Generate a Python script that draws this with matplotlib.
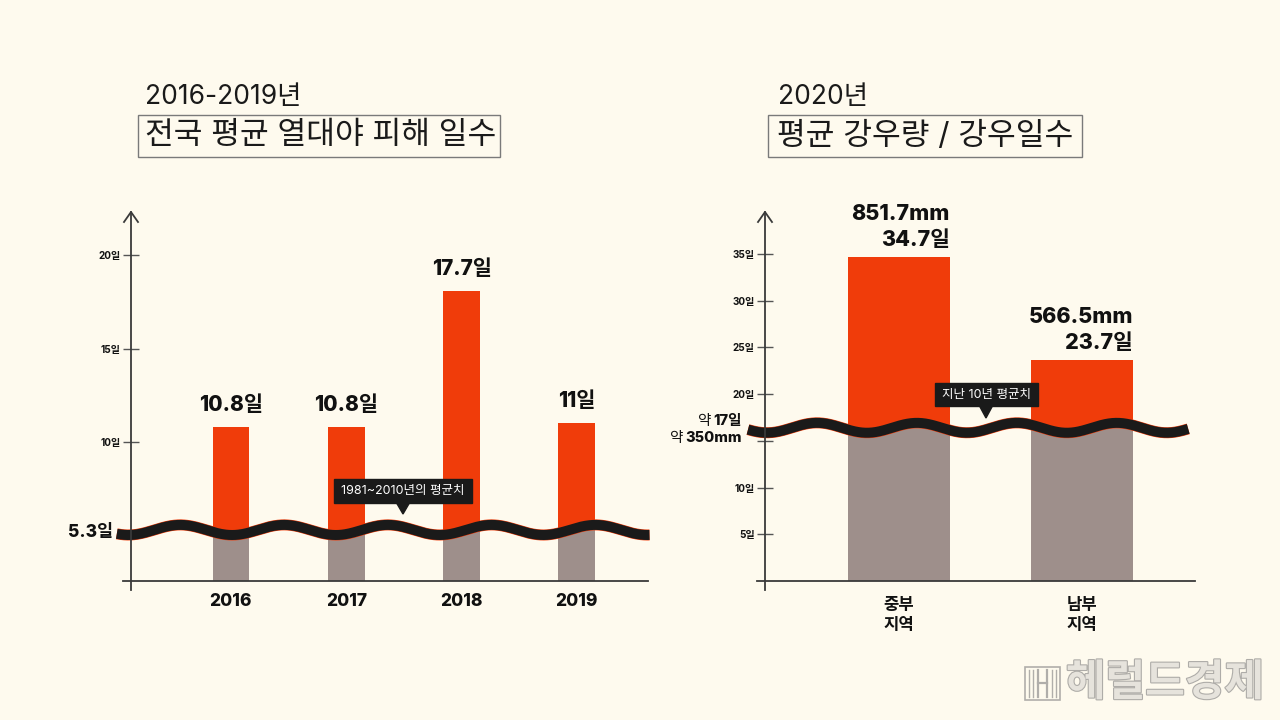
import numpy as np
import matplotlib
matplotlib.use('Agg')
import matplotlib.pyplot as plt
from matplotlib.patches import Rectangle, Polygon
from matplotlib.lines import Line2D
import matplotlib.patheffects as pe

plt.rcParams['font.family'] = ['Inter', 'Noto Sans CJK KR', 'DejaVu Sans']

# left chart: tropical night days
years = ['2016', '2017', '2018', '2019']
heat_days = [10.8, 10.8, 18.1, 11.0]
heat_labels = ['10.8일', '10.8일', '17.7일', '11일']
heat_avg = 5.3
heat_ticks = [10, 15, 20]
heat_ticklabels = ['10일', '15일', '20일']

# right chart: rain 2020
regions = ['중부\n지역', '남부\n지역']
rain_days = [34.7, 23.7]
rain_mm = ['851.7mm', '566.5mm']
rain_day_labels = ['34.7일', '23.7일']
rain_avg = 16.4
rain_ticks = [5, 10, 15, 20, 25, 30, 35]
rain_ticklabels = ['5일', '10일', '', '20일', '25일', '30일', '35일']

BG = '#fefaee'
ORANGE = '#f03c0a'
GRAY = '#9e8f8b'
DARK = '#1a1a1a'
AXC = '#3a3a3a'

W, H = 1280, 720


def fx(x):
    return x / W


def fy(y):
    return 1 - y / H


fig = plt.figure(figsize=(12.8, 7.2), dpi=100, facecolor=BG)


def fig_line(xs, ys, **kw):
    fig.add_artist(Line2D([fx(v) for v in xs], [fy(v) for v in ys], **kw))


def axis_frame(left, right, bottom, top):
    # x axis, y axis and the little arrow head
    fig_line([left - 8, right], [bottom, bottom], color=AXC, lw=1.3)
    fig_line([left, left], [bottom + 9, top], color=AXC, lw=1.3)
    fig_line([left - 7, left, left + 7], [top + 10, top, top + 10], color=AXC, lw=1.3)


def wave(ax, x0, x1, level, amp, period, crest):
    xs = np.linspace(x0, x1, 500)
    ys = level + amp * np.cos(2 * np.pi * (xs - crest) / period)
    ax.plot(xs, ys, color=DARK, lw=7.2, solid_capstyle='butt', clip_on=False, zorder=5,
            path_effects=[pe.Stroke(linewidth=7.9, foreground=ORANGE), pe.Normal()])


def style_axes(ax):
    ax.set_facecolor('none')
    for s in ax.spines.values():
        s.set_visible(False)
    ax.tick_params(axis='y', direction='inout', length=11, width=1, color='#555555',
                   labelsize=7.2, labelcolor='#111111', pad=2)
    ax.tick_params(axis='x', length=0, pad=9, labelcolor='#111111')


# ---------- left ----------
ax1 = fig.add_axes([fx(131), fy(581), (648 - 131) / W, (581 - 212) / H])
style_axes(ax1)
x1 = np.arange(len(years))
ax1.bar(x1, heat_days, width=0.32, color=ORANGE, zorder=2)
ax1.bar(x1, [heat_avg] * len(years), width=0.32, color=GRAY, zorder=3)
wave(ax1, -0.99, 3.63, heat_avg, 0.27, 0.9, -0.44)
ax1.set_xlim(-0.867, 3.617)
ax1.set_ylim(2.57, 22.3)
ax1.set_yticks(heat_ticks, heat_ticklabels, fontweight='bold')
ax1.set_xticks(x1, years, fontsize=12.5, fontweight=800)
for xi, v, lab in zip(x1, heat_days, heat_labels):
    ax1.annotate(lab, (xi, v), xytext=(0, 22), textcoords='offset pixels',
                 ha='center', va='center', fontsize=15, fontweight=800, color='#111111')
axis_frame(131, 648, 581, 212)

# ---------- right ----------
ax2 = fig.add_axes([fx(765), fy(581), (1195 - 765) / W, (581 - 212) / H])
style_axes(ax2)
x2 = np.arange(len(regions))
ax2.bar(x2, rain_days, width=0.557, color=ORANGE, zorder=2)
ax2.bar(x2, [rain_avg] * len(regions), width=0.557, color=GRAY, zorder=3)
wave(ax2, -0.825, 1.58, rain_avg, 0.53, 0.546, -0.448)
ax2.set_xlim(-0.732, 1.617)
ax2.set_ylim(0, 39.5)
ax2.set_yticks(rain_ticks, rain_ticklabels, fontweight='bold')
ax2.set_xticks(x2, regions, fontsize=12, fontweight='bold', linespacing=1.45)
ax2.tick_params(axis='x', pad=12)
for xi, v, mm, d in zip(x2, rain_days, rain_mm, rain_day_labels):
    ax2.annotate(d, (xi + 0.557 / 2, v), xytext=(0, 17), textcoords='offset pixels',
                 ha='right', va='center', fontsize=15.5, fontweight=800, color='#111111')
    ax2.annotate(mm, (xi + 0.557 / 2, v), xytext=(0, 43), textcoords='offset pixels',
                 ha='right', va='center', fontsize=15.5, fontweight=800, color='#111111')
axis_frame(765, 1195, 581, 212)

# ---------- titles ----------
fig.text(fx(145), fy(97), '2016-2019년', fontsize=19, va='center', color='#1a1a1a')
fig.text(fx(145), fy(136), '전국 평균 열대야 피해 일수', fontsize=22.5, va='center', color='#1a1a1a')
fig.add_artist(Rectangle((fx(138), fy(157)), (500 - 138) / W, (157 - 115) / H,
                         fill=False, edgecolor='#7a7a7a', lw=1))
fig.text(fx(778), fy(97), '2020년', fontsize=19, va='center', color='#1a1a1a')
fig.text(fx(777), fy(136), '평균 강우량 / 강우일수', fontsize=22.5, va='center', color='#1a1a1a')
fig.add_artist(Rectangle((fx(768), fy(157)), (1082 - 768) / W, (157 - 115) / H,
                         fill=False, edgecolor='#7a7a7a', lw=1))

# ---------- average level labels ----------
fig.text(fx(113), fy(533), '5.3일', fontsize=12.5, fontweight=800, ha='right', va='center',
         color='#111111')

renderer = fig.canvas.get_renderer()
for txt, y in [('17일', 421), ('350mm', 438)]:
    t = fig.text(fx(742), fy(y), txt, fontsize=10.5, fontweight=800, ha='right', va='center',
                 color='#111111')
    bb = t.get_window_extent(renderer)
    fig.text(bb.x0 / W - 3 / W, fy(y), '약', fontsize=10.5, ha='right', va='center', color='#111111')

# ---------- callout boxes ----------
def callout(x0, x1, y0, y1, tip_x, tip_y, text):
    fig.add_artist(Rectangle((fx(x0), fy(y1)), (x1 - x0) / W, (y1 - y0) / H,
                             color=DARK, zorder=10))
    fig.add_artist(Polygon([(fx(tip_x - 7), fy(y1 - 1)), (fx(tip_x + 7), fy(y1 - 1)),
                            (fx(tip_x), fy(tip_y))], closed=True, color=DARK, zorder=10))
    fig.text(fx((x0 + x1) / 2), fy((y0 + y1) / 2), text, color='white', fontsize=9,
             ha='center', va='center', zorder=11)


callout(334, 472, 479, 503, 403, 514, '1981~2010년의 평균치')
callout(935, 1038, 383, 406, 986, 418, '지난 10년 평균치')

# ---------- logo ----------
LOGO = '#e6e3dc'
shadow = [pe.withStroke(linewidth=1.6, foreground='#aeaca8')]
fig.text(fx(1066), fy(684), '헤럴드경제', fontsize=31, fontweight='bold', color=LOGO,
         va='center', path_effects=shadow)
fig.add_artist(Rectangle((fx(1025), fy(700)), 35 / W, 33 / H, fill=False,
                         edgecolor='#b0aeaa', lw=1.2))
for xv in [1029, 1033, 1052, 1056]:
    fig_line([xv, xv], [670, 697], color='#b0aeaa', lw=1)
for xv in [1038, 1047]:
    fig_line([xv, xv], [670, 697], color='#b0aeaa', lw=1.6)
fig_line([1038, 1047], [683, 683], color='#b0aeaa', lw=1.6)

fig.savefig('out.png', dpi=100, facecolor=BG)
